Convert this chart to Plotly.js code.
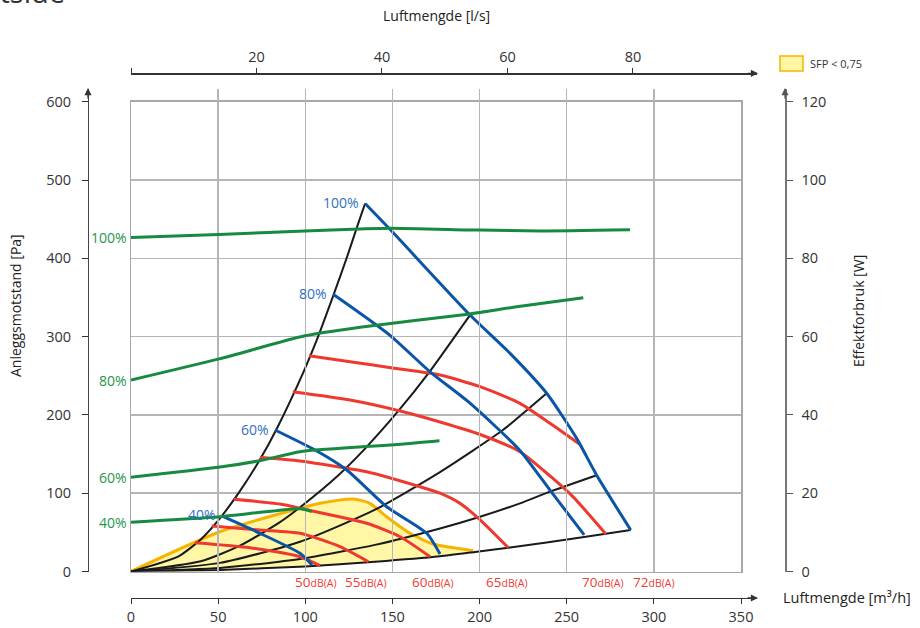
<!DOCTYPE html>
<html><head><meta charset="utf-8">
<script src="https://cdn.plot.ly/plotly-3.0.1.min.js"></script>
<style>html,body{margin:0;padding:0;background:#fff}#chart{width:920px;height:628px}</style>
</head><body><div id="chart"></div>
<script>
// ---- data (airflow in m³/h, pressure in Pa, power in W) ----
const sysA_Q = [0, 27, 40, 51, 62, 74, 84, 99, 107, 116, 124, 130, 134.3];
const sysA_P = [0, 19, 41, 68, 101, 143, 184, 255, 298, 352, 402, 442, 470];
const sysB_Q = [0, 40, 62.5, 85.5, 97, 119, 134.3, 153.4, 170.6, 194.5];
const sysB_P = [0, 13, 33, 63, 82, 123, 157, 205, 253, 327.5];
const sysC_Q = [0, 51, 97, 140, 177.3, 213.6, 227.6, 238.5];
const sysC_P = [0, 11, 38, 79, 127, 181, 207, 227.6];
const sysD_Q = [0, 51, 97, 140, 177.3, 200.3, 223.2, 240.4, 267.2];
const sysD_P = [0, 4.5, 16, 34, 55, 70, 87, 102, 123];
const sysE_Q = [0, 51, 100, 140, 177.3, 197.4, 216.5, 260, 286.7];
const sysE_P = [0, 2, 6.5, 12.5, 19.5, 25, 30.4, 44, 53];

const db72_Q = [102.1, 125.7, 150, 177.3, 200.3, 223.2, 240.4, 257.2];
const db72_P = [275.6, 268, 260, 251, 236, 214.8, 189.3, 162.9];
const db70_Q = [92.8, 125.7, 154.4, 177.3, 200.3, 223.2, 240.4, 253.8, 272.4];
const db70_P = [229.6, 219, 205, 191, 175, 153, 122, 95, 48];
const db65_Q = [74, 97, 135.2, 165.8, 177.3, 188.8, 200.3, 216.5];
const db65_P = [145.8, 141, 127.4, 108.3, 100, 87, 66, 30.4];
const db60_Q = [59.1, 85.5, 97, 135.2, 154.4, 171.6];
const db60_P = [92.3, 86.2, 80.7, 61.6, 44.4, 18.9];
const db55_Q = [46.3, 74, 97, 119.9, 136.2];
const db55_P = [58.1, 53, 48.8, 31.7, 12.5];
const db50_Q = [36.7, 68.3, 97, 108.4];
const db50_P = [36.8, 30.4, 18.9, 7.4];

const fan100_Q = [134.3, 148.6, 194.5, 217.5, 238.5, 255.7, 267.2, 286.7];
const fan100_P = [470, 437, 327.5, 278.6, 227.6, 170, 123, 53];
const fan80_Q = [116, 148.6, 171.6, 194.5, 223, 240.4, 260];
const fan80_P = [354, 301.6, 255, 215, 155, 104, 46.7];
const fan60_Q = [82.6, 105.6, 123.8, 146.7, 169.7, 177.3];
const fan60_P = [180.7, 155.1, 129.6, 82.7, 48.8, 22.3];
const fan40_Q = [52, 74, 97, 103.9];
const fan40_P = [70.9, 48.8, 23.2, 8.3];

const pow100_Q = [0, 50.5, 99.8, 131.4, 148.6, 200.3, 234.7, 286.3];
const pow100_W = [85.3, 86.1, 87.0, 87.5, 87.7, 87.2, 87.0, 87.3];
const pow80_Q = [0, 50.5, 99.8, 131.4, 194.5, 221.3, 259.5];
const pow80_W = [48.9, 54.3, 60.2, 62.4, 65.8, 67.6, 69.9];
const pow60_Q = [0, 50, 75, 97, 135, 155, 177];
const pow60_W = [24.1, 26.6, 28.4, 30.6, 31.9, 32.5, 33.4];
const pow40_Q = [0, 51, 97, 103.7];
const pow40_W = [12.6, 14.0, 16.0, 15.3];

const sfpTop_Q = [0, 51, 108.4, 127.5, 137.1, 146.7, 160.1, 173.5, 196.4];
const sfpTop_P = [0, 50.8, 87.1, 92.6, 87.1, 70, 48.8, 35.1, 26.6];

const fanLabels = ['100%', '80%', '60%', '40%'];
const dbLevels = ['50', '55', '60', '65', '70', '72'];
const dbLabelQ = [106, 135, 173, 216, 271, 300];
const xTicks = [0, 50, 100, 150, 200, 250, 300, 350];
const lsTicks = [0, 20, 40, 60, 80];
const lsTickText = ['', '20', '40', '60', '80'];
const paTicks = [0, 100, 200, 300, 400, 500, 600];
const wTicks = [0, 20, 40, 60, 80, 100, 120];

// ---- styling / geometry ----
const W = 920, H = 628;
const px = v => v / W, py = v => 1 - v / H;
const GREEN = '#168a40', BLUE = '#0a55a6', RED = '#ee3a2e', BLACK = '#1a1a1a';
const BLUE_T = '#2f70bf', GREEN_T = '#25964d', RED_T = '#ee3b33';
const FONT = 'Open Sans, Noto Sans, sans-serif';

const line = (xs, ys, color, width, axes) => ({
  x: xs, y: ys, type: 'scatter', mode: 'lines', xaxis: axes[0], yaxis: axes[1],
  line: {color: color, width: width, shape: 'spline', smoothing: 0.6},
  hoverinfo: 'skip', showlegend: false
});

// SFP polygon: top boundary then bottom system curve back to origin
const sfpBotIdx = sysE_Q.map((q, i) => i).filter(i => sysE_Q[i] < sfpTop_Q[sfpTop_Q.length - 1]).reverse();
const polyQ = sfpTop_Q.concat(sfpBotIdx.map(i => sysE_Q[i]));
const polyP = sfpTop_P.concat(sfpBotIdx.map(i => sysE_P[i]));

const traces = [
  {x: polyQ, y: polyP, type: 'scatter', mode: 'lines', fill: 'toself', fillcolor: '#fff6a6',
   line: {width: 0, color: 'rgba(0,0,0,0)'}, xaxis: 'x', yaxis: 'y', hoverinfo: 'skip', showlegend: false},
  line(sfpTop_Q, sfpTop_P, '#f6b400', 3, ['x', 'y']),
  line(sysA_Q, sysA_P, BLACK, 2, ['x', 'y']),
  line(sysB_Q, sysB_P, BLACK, 2, ['x', 'y']),
  line(sysC_Q, sysC_P, BLACK, 2, ['x', 'y']),
  line(sysD_Q, sysD_P, BLACK, 2, ['x', 'y']),
  line(sysE_Q, sysE_P, BLACK, 2, ['x', 'y']),
  line(db72_Q, db72_P, RED, 3, ['x', 'y']),
  line(db70_Q, db70_P, RED, 3, ['x', 'y']),
  line(db65_Q, db65_P, RED, 3, ['x', 'y']),
  line(db60_Q, db60_P, RED, 3, ['x', 'y']),
  line(db55_Q, db55_P, RED, 3, ['x', 'y']),
  line(db50_Q, db50_P, RED, 3, ['x', 'y']),
  line(fan100_Q, fan100_P, BLUE, 3, ['x', 'y']),
  line(fan80_Q, fan80_P, BLUE, 3, ['x', 'y']),
  line(fan60_Q, fan60_P, BLUE, 3, ['x', 'y']),
  line(fan40_Q, fan40_P, BLUE, 3, ['x', 'y']),
  line(pow100_Q, pow100_W, GREEN, 3, ['x', 'y2']),
  line(pow80_Q, pow80_W, GREEN, 3, ['x', 'y2']),
  line(pow60_Q, pow60_W, GREEN, 3, ['x', 'y2']),
  line(pow40_Q, pow40_W, GREEN, 3, ['x', 'y2']),
  // invisible carriers so the scale-only axes (bottom m³/h, top l/s, left Pa) are drawn
  {x: xTicks, y: xTicks.map(() => 0), type: 'scatter', mode: 'none', xaxis: 'x2', yaxis: 'y3', hoverinfo: 'skip', showlegend: false},
  {x: lsTicks, y: lsTicks.map(() => 0), type: 'scatter', mode: 'none', xaxis: 'x3', yaxis: 'y3', hoverinfo: 'skip', showlegend: false}
];

const yMainDom = [py(571.5), py(101.7)];
const yArrowDom = [py(571.5), py(89)];
const extY = (571.5 - 89) / (571.5 - 101.7);
const xMainDom = [px(131), px(741)];
const xArrowDom = [px(131), px(757)];
const extX = (757 - 131) / (741 - 131);
const tickFont = {family: FONT, size: 14.5, color: '#333'};

const annotations = [];
const ann = o => annotations.push(Object.assign({showarrow: false, xanchor: 'center', yanchor: 'middle'}, o));
// fan labels (blue)
[[fan100_Q, fan100_P], [fan80_Q, fan80_P], [fan60_Q, fan60_P], [fan40_Q, fan40_P]].forEach((c, i) => {
  ann({x: c[0][0], y: c[1][0], xref: 'x', yref: 'y', text: fanLabels[i],
    xanchor: 'right', xshift: -4, yshift: 1, font: {family: FONT, size: 14, color: BLUE_T}});
});
// power labels (green)
[pow100_W, pow80_W, pow60_W, pow40_W].forEach((w, i) => {
  ann({x: px(129), y: w[0], xref: 'paper', yref: 'y2', text: fanLabels[i],
    xanchor: 'right', font: {family: FONT, size: 14, color: GREEN_T}});
});
// dB labels
dbLevels.forEach((lv, i) => {
  ann({x: dbLabelQ[i], y: py(582), xref: 'x', yref: 'paper',
    text: lv + '<span style="font-size:10.5px">dB(A)</span>', font: {family: FONT, size: 13.5, color: RED_T}});
});
// axis titles
ann({x: px(15), y: py(306), xref: 'paper', yref: 'paper', text: 'Anleggsmotstand [Pa]', textangle: -90,
  font: {family: FONT, size: 14, color: '#222'}});
ann({x: px(858), y: py(311), xref: 'paper', yref: 'paper', text: 'Effektforbruk [W]', textangle: -90,
  font: {family: FONT, size: 14, color: '#222'}});
ann({x: px(436), y: py(15), xref: 'paper', yref: 'paper', text: 'Luftmengde [l/s]',
  font: {family: FONT, size: 14, color: '#222'}});
ann({x: px(781), y: py(597), xref: 'paper', yref: 'paper', text: 'Luftmengde [m³/h]', xanchor: 'left',
  font: {family: FONT, size: 14.5, color: '#222'}});
// cut-off page title
ann({x: px(67), y: py(13), xref: 'paper', yref: 'paper', text: 'Tilluftside', xanchor: 'right', yanchor: 'bottom',
  font: {family: FONT, size: 29, color: '#333'}});
// legend text
ann({x: px(808), y: py(64), xref: 'paper', yref: 'paper', text: 'SFP &lt; 0,75', xanchor: 'left',
  font: {family: FONT, size: 11, color: '#333'}});
// axis arrowheads
const arrow = (x, y, ax, ay, color) => ({x: px(x), y: py(y), xref: 'paper', yref: 'paper', ax: ax, ay: ay, text: '',
  showarrow: true, arrowhead: 2, arrowsize: 1.1, arrowwidth: 1.3, arrowcolor: color, standoff: 0});
annotations.push(arrow(758, 598, -12, 0, '#333'));
annotations.push(arrow(758, 73.3, -12, 0, '#333'));
annotations.push(arrow(88, 88, 0, 12, '#333'));
annotations.push(arrow(785, 88, 0, 12, '#555'));

const layout = {
  width: W, height: H, margin: {l: 0, r: 0, t: 0, b: 0},
  paper_bgcolor: '#fff', plot_bgcolor: 'rgba(0,0,0,0)', showlegend: false, hovermode: false,
  font: {family: FONT, color: '#333'},
  xaxis: {domain: xMainDom, range: [0, 350], tickvals: xTicks, showticklabels: false, ticks: '',
    showgrid: true, gridcolor: '#b5b5b5', gridwidth: 1.5, zeroline: false,
    showline: true, mirror: true, linecolor: '#a8a8a8', linewidth: 1.5, anchor: 'y', fixedrange: true},
  yaxis: {domain: yMainDom, range: [0, 600], tickvals: paTicks, showticklabels: false, ticks: '',
    showgrid: true, gridcolor: '#b5b5b5', gridwidth: 1.5, zeroline: false,
    showline: true, mirror: true, linecolor: '#a8a8a8', linewidth: 1.5, anchor: 'x', fixedrange: true},
  xaxis2: {domain: xArrowDom, range: [0, 350 * extX], anchor: 'free', position: py(598), tickvals: xTicks,
    ticks: 'outside', ticklen: 5, tickcolor: '#333', showline: true, linecolor: '#333', linewidth: 1.2,
    showgrid: false, zeroline: false, tickfont: tickFont, ticklabelstandoff: 0, fixedrange: true},
  xaxis3: {domain: xArrowDom, range: [0, 350 * extX / 3.6], anchor: 'free', position: py(73.3), side: 'top',
    tickvals: lsTicks, ticktext: lsTickText, ticks: 'outside', ticklen: 5, tickcolor: '#333',
    showline: true, linecolor: '#333', linewidth: 1.2, showgrid: false, zeroline: false,
    tickfont: tickFont, ticklabelstandoff: 1, fixedrange: true},
  yaxis2: {domain: yArrowDom, range: [0, 120 * extY], anchor: 'free', position: px(785), side: 'right',
    tickvals: wTicks, ticks: 'outside', ticklen: 6, tickcolor: '#555', showline: true, linecolor: '#777', linewidth: 1.5,
    showgrid: false, zeroline: false, tickfont: tickFont, ticklabelstandoff: 6, fixedrange: true},
  yaxis3: {domain: yArrowDom, range: [0, 600 * extY], anchor: 'free', position: px(88), side: 'left',
    tickvals: paTicks, ticks: 'outside', ticklen: 6, tickcolor: '#333', showline: true, linecolor: '#444', linewidth: 1.2,
    showgrid: false, zeroline: false, tickfont: tickFont, ticklabelstandoff: 8, fixedrange: true},
  shapes: [{type: 'rect', xref: 'paper', yref: 'paper', x0: px(780), x1: px(803), y0: py(71), y1: py(56),
    fillcolor: '#fff6a6', line: {color: '#f6b400', width: 1.5}}],
  annotations: annotations
};

Plotly.newPlot('chart', traces, layout, {staticPlot: true, displayModeBar: false});
</script></body></html>
